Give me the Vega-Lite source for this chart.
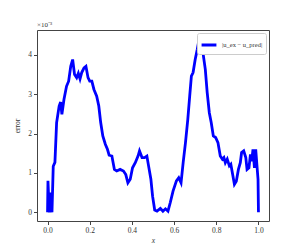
{
  "$schema": "https://vega.github.io/schema/vega-lite/v6.json",
  "autosize": {"type": "none"},
  "width": 232,
  "height": 191,
  "padding": {"left": 37, "top": 30, "right": 30, "bottom": 28},
  "background": "white",
  "title": {"text": "×10⁻³", "anchor": "start", "frame": "group", "fontSize": 7, "font": "Liberation Serif", "fontWeight": "normal", "color": "#333", "offset": 2},
  "config": {
    "view": {"stroke": "#444", "strokeWidth": 1},
    "axis": {"grid": false, "domain": false, "tickColor": "#444", "tickSize": 3.5, "labelFont": "Liberation Serif", "labelFontSize": 7.5, "labelColor": "#333", "titleFont": "Liberation Serif", "titleFontSize": 7.5, "titleColor": "#333", "titleFontWeight": "normal", "labelPadding": 2}
  },
  "data": {"values": [
    {"x": 0.0, "y": 0.0},
    {"x": 0.002, "y": 0.0008},
    {"x": 0.008, "y": 0.0},
    {"x": 0.016, "y": 0.0005},
    {"x": 0.021, "y": 0.0},
    {"x": 0.027, "y": 0.00117},
    {"x": 0.035, "y": 0.00127},
    {"x": 0.043, "y": 0.00228},
    {"x": 0.055, "y": 0.0027},
    {"x": 0.062, "y": 0.0028},
    {"x": 0.068, "y": 0.00249},
    {"x": 0.078, "y": 0.00287},
    {"x": 0.09, "y": 0.0032},
    {"x": 0.1, "y": 0.00333},
    {"x": 0.11, "y": 0.00371},
    {"x": 0.119, "y": 0.00388},
    {"x": 0.128, "y": 0.0035},
    {"x": 0.138, "y": 0.00342},
    {"x": 0.146, "y": 0.00353},
    {"x": 0.154, "y": 0.00339},
    {"x": 0.162, "y": 0.00355},
    {"x": 0.173, "y": 0.00367},
    {"x": 0.182, "y": 0.00371},
    {"x": 0.192, "y": 0.00342},
    {"x": 0.2, "y": 0.00333},
    {"x": 0.21, "y": 0.00333},
    {"x": 0.22, "y": 0.00312},
    {"x": 0.233, "y": 0.00295},
    {"x": 0.243, "y": 0.0027},
    {"x": 0.252, "y": 0.00228},
    {"x": 0.262, "y": 0.00194},
    {"x": 0.274, "y": 0.00173},
    {"x": 0.284, "y": 0.0016},
    {"x": 0.292, "y": 0.00145},
    {"x": 0.305, "y": 0.00143},
    {"x": 0.317, "y": 0.00109},
    {"x": 0.328, "y": 0.00105},
    {"x": 0.344, "y": 0.00109},
    {"x": 0.36, "y": 0.00105},
    {"x": 0.371, "y": 0.00096},
    {"x": 0.381, "y": 0.00075},
    {"x": 0.392, "y": 0.00084},
    {"x": 0.403, "y": 0.00113},
    {"x": 0.416, "y": 0.00126},
    {"x": 0.429, "y": 0.00143},
    {"x": 0.436, "y": 0.00156},
    {"x": 0.448, "y": 0.00139},
    {"x": 0.46, "y": 0.00139},
    {"x": 0.471, "y": 0.00143},
    {"x": 0.479, "y": 0.00118},
    {"x": 0.49, "y": 0.00084},
    {"x": 0.498, "y": 0.00041},
    {"x": 0.508, "y": 0.00006},
    {"x": 0.519, "y": 0.00003},
    {"x": 0.535, "y": 0.0001},
    {"x": 0.547, "y": 0.00003},
    {"x": 0.559, "y": 0.00009},
    {"x": 0.571, "y": 0.00003},
    {"x": 0.582, "y": 0.00025},
    {"x": 0.595, "y": 0.00054},
    {"x": 0.611, "y": 0.0008},
    {"x": 0.622, "y": 0.00088},
    {"x": 0.633, "y": 0.00075},
    {"x": 0.643, "y": 0.00126},
    {"x": 0.654, "y": 0.00177},
    {"x": 0.665, "y": 0.00236},
    {"x": 0.674, "y": 0.00295},
    {"x": 0.682, "y": 0.00346},
    {"x": 0.69, "y": 0.00355},
    {"x": 0.7, "y": 0.00388},
    {"x": 0.71, "y": 0.00414},
    {"x": 0.719, "y": 0.00441},
    {"x": 0.729, "y": 0.00414},
    {"x": 0.738, "y": 0.00401},
    {"x": 0.748, "y": 0.00363},
    {"x": 0.757, "y": 0.00304},
    {"x": 0.767, "y": 0.00253},
    {"x": 0.776, "y": 0.00228},
    {"x": 0.786, "y": 0.00194},
    {"x": 0.797, "y": 0.0019},
    {"x": 0.808, "y": 0.00177},
    {"x": 0.819, "y": 0.00143},
    {"x": 0.829, "y": 0.00135},
    {"x": 0.836, "y": 0.00139},
    {"x": 0.843, "y": 0.00126},
    {"x": 0.852, "y": 0.00135},
    {"x": 0.862, "y": 0.00118},
    {"x": 0.869, "y": 0.00122},
    {"x": 0.879, "y": 0.00092},
    {"x": 0.886, "y": 0.00071},
    {"x": 0.895, "y": 0.00079},
    {"x": 0.905, "y": 0.00109},
    {"x": 0.914, "y": 0.00126},
    {"x": 0.92, "y": 0.00152},
    {"x": 0.93, "y": 0.00156},
    {"x": 0.94, "y": 0.00139},
    {"x": 0.946, "y": 0.00109},
    {"x": 0.955, "y": 0.00113},
    {"x": 0.962, "y": 0.00147},
    {"x": 0.968, "y": 0.0013},
    {"x": 0.974, "y": 0.0016},
    {"x": 0.981, "y": 0.00113},
    {"x": 0.987, "y": 0.0016},
    {"x": 0.993, "y": 0.00118},
    {"x": 0.998, "y": 0.00084},
    {"x": 1.0, "y": 0.0}
  ]},
  "mark": {"type": "line", "strokeWidth": 2.8, "clip": true},
  "encoding": {
    "x": {"field": "x", "type": "quantitative", "scale": {"domain": [-0.05, 1.05], "nice": false, "zero": false},
          "axis": {"values": [0, 0.2, 0.4, 0.6, 0.8, 1.0], "format": ".1f", "title": "x", "titleFontStyle": "italic", "titlePadding": 2}},
    "y": {"field": "y", "type": "quantitative", "scale": {"domain": [-0.00022, 0.00463], "nice": false, "zero": false},
          "axis": {"values": [0, 0.001, 0.002, 0.003, 0.004], "labelExpr": "format(datum.value*1000, 'd')", "title": "error", "titlePadding": 6}},
    "color": {"datum": "|u_ex − u_pred|", "type": "nominal", "scale": {"range": ["#0000ff"]},
              "legend": {"title": null, "orient": "top-right", "offset": 3, "symbolType": "stroke", "symbolStrokeWidth": 3, "symbolSize": 220,
                         "labelFont": "Liberation Serif", "labelFontSize": 6.5, "labelColor": "#333", "strokeColor": "#ccc", "cornerRadius": 2,
                         "padding": 3, "fillColor": "white"}}
  }
}
